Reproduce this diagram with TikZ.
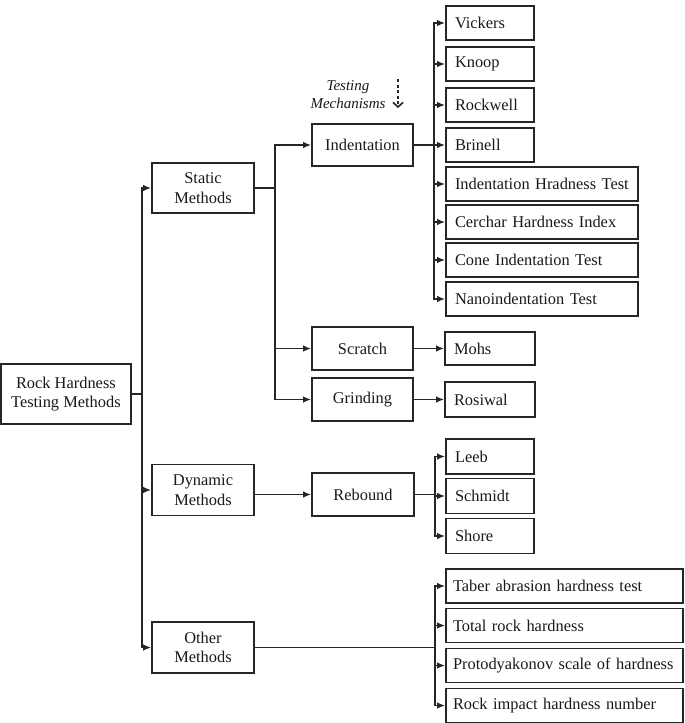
\documentclass[tikz,border=0pt]{standalone}
\usepackage{fontspec}
\setmainfont{Liberation Serif}
\usetikzlibrary{arrows.meta}
\begin{document}
\begin{tikzpicture}[x=1pt,y=-1pt,
  line width=1.6pt,
  lc/.style={draw=black!85},
  txt/.style={font=\fontsize{16.4}{19.5}\selectfont, text=black!90},
  cbox/.style={lc, txt, align=center, inner sep=0pt, minimum width=#1},
  leaf/.style={lc, txt, align=left, text width=#1, inner xsep=9pt, inner ysep=0pt, minimum height=34pt},
  wleaf/.style={leaf=223, inner xsep=7pt},
  arr/.style={lc, -{Latex[length=8pt,width=6.5pt]}},
  ln/.style={lc}
]
\useasboundingbox (0,0) rectangle (685,723);

% level 0/1
\node[cbox=130, minimum height=60] (root) at (65.9,394) {Rock Hardness\\Testing Methods};
\node[cbox=102, minimum height=50] (static) at (203,188) {Static\\Methods};
\node[cbox=102, minimum height=51] (dyn) at (203,490) {Dynamic\\Methods};
\node[cbox=102, minimum height=51] (other) at (203,647.5) {Other\\Methods};

% level 2
\node[cbox=101, minimum height=42] (indent) at (362.5,145) {Indentation};
\node[cbox=101, minimum height=43] (scratch) at (362.5,348.5) {Scratch};
\node[cbox=101, minimum height=43] (grind) at (362.5,399.5) {Grinding};
\node[cbox=102, minimum height=43] (reb) at (363,494.5) {Rebound};

% indentation leaves
\node[leaf=70] (vick) at (490,23) {Vickers};
\node[leaf=70] (knoop) at (490,64) {Knoop};
\node[leaf=70] (rock) at (490,105) {Rockwell};
\node[leaf=70] (brin) at (490,145) {Brinell};
\node[leaf=174] (iht) at (542,184) {Indentation Hradness Test};
\node[leaf=174] (cerch) at (542,222) {Cerchar Hardness Index};
\node[leaf=174] (cone) at (542,260) {Cone Indentation Test};
\node[leaf=174] (nano) at (542,299) {Nanoindentation Test};

% scratch / grinding leaves
\node[leaf=72, minimum height=33] (mohs) at (490,348.5) {Mohs};
\node[leaf=72, minimum height=35] (rosi) at (490,399.5) {Rosiwal};

% rebound leaves
\node[leaf=70, minimum height=35] (leeb) at (490,456.5) {Leeb};
\node[leaf=70, minimum height=35] (schm) at (490,496) {Schmidt};
\node[leaf=70, minimum height=35] (shore) at (490,536) {Shore};

% other leaves
\node[wleaf] (taber) at (564.5,586) {Taber abrasion hardness test};
\node[wleaf] (total) at (564.5,625.5) {Total rock hardness};
\node[wleaf] (proto) at (564.5,665.5) {Protodyakonov scale of hardness};
\node[wleaf] (rimp) at (564.5,705.5) {Rock impact hardness number};

% testing mechanisms label
\node[font=\fontsize{15}{17.5}\selectfont\itshape, text=black!90, align=center, inner sep=0pt] (tm) at (348,94.5) {Testing\\Mechanisms};
\coordinate (dtop) at (398,79);
\coordinate (dbot) at (398,108);
\draw[lc, dashed, dash pattern=on 3pt off 2.5pt, -{Straight Barb[length=4.5pt,width=10pt]}] (dtop) -- (dbot);

% connectors from root
\draw[arr] (root.east) -- ++(10,0) |- (static.west);
\draw[arr] (root.east) -- ++(10,0) |- (dyn.west);
\draw[arr] (root.east) -- ++(10,0) |- (other.west);

% static
\draw[arr] (static.east) -- ++(20,0) |- (indent.west);
\draw[arr] (static.east) -- ++(20,0) |- (scratch.west);
\draw[arr] (static.east) -- ++(20,0) |- (grind.west);

% indentation
\foreach \n in {vick,knoop,rock,brin,iht,cerch,cone,nano}
  \draw[arr] (indent.east) -- ++(20,0) |- (\n.west);

\draw[arr] (scratch.east) -- (mohs.west);
\draw[arr] (grind.east) -- (rosi.west);

% dynamic
\draw[arr] (dyn.east |- reb.west) -- (reb.west);
\foreach \n in {leeb,schm,shore}
  \draw[arr] (reb.east) -- ++(20,0) |- (\n.west);

% other
\foreach \n in {taber,total,proto,rimp}
  \draw[arr] (other.east) -- ++(180,0) |- (\n.west);
\end{tikzpicture}
\end{document}
